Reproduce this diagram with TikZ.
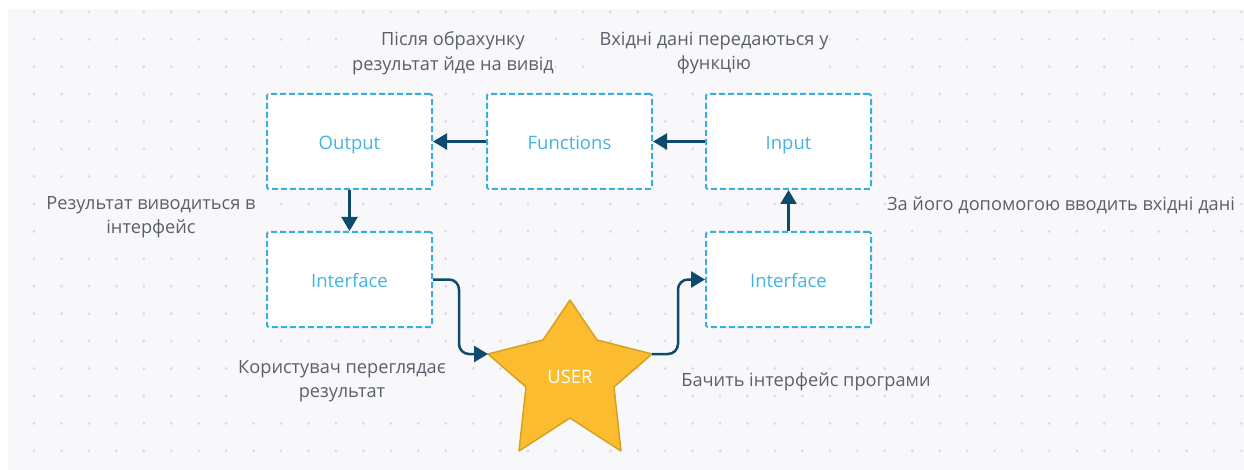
\documentclass[tikz,border=0pt]{standalone}
\usepackage{fontspec}
\setmainfont{Open Sans}
\usetikzlibrary{arrows.meta}
\definecolor{bg}{HTML}{F8F8FA}
\definecolor{dotc}{HTML}{DCDCE0}
\definecolor{boxc}{HTML}{3AADE0}
\definecolor{boxt}{HTML}{45B3E2}
\definecolor{navy}{HTML}{0E4A6B}
\definecolor{starc}{HTML}{FBBD2F}
\definecolor{stard}{HTML}{D6A11E}
\definecolor{labc}{HTML}{5A606B}
\tikzset{
  box/.style={draw=boxc, dash pattern=on 6pt off 3pt, line width=2pt, fill=white,
    minimum width=165pt, minimum height=95pt, rounded corners=2pt, text=boxt,
    font=\fontsize{18.5}{22}\selectfont, text height=19.5pt, text depth=3pt},
  conn/.style={draw=navy, line width=2.5pt, -{Triangle[length=14pt,width=16pt]}},
  lab/.style={text=labc, font=\fontsize{18.2}{24.5}\selectfont, align=center, fill=bg, inner sep=1pt},
}
\begin{document}
\begin{tikzpicture}[x=1pt,y=-1pt]
\useasboundingbox (0,0) rectangle (1244,470);
\fill[bg] (8,9) rectangle (1244,470);
\begin{scope}
\clip (8,9) rectangle (1244,470);
\foreach \i in {0,...,45} \foreach \j in {0,...,16} \fill[dotc] (6.66+27.44*\i, 11.8+27.44*\j) circle (1.6pt);
\end{scope}

\node[box] (out) at (349.5,141.5) {Output};
\node[box] (fun) at (569.5,141.5) {Functions};
\node[box] (inp) at (788.5,141.5) {Input};
\node[box] (ifl) at (349.5,279.5) {Interface};
\node[box] (ifr) at (788.5,279.5) {Interface};

\draw[stard, line width=1.5pt, fill=starc, line join=round]
  (570,300) -- (597,340) -- (652,354) -- (614,387) -- (621,451) -- (570,418)
  -- (519,451) -- (526,387) -- (488,354) -- (543,340) -- cycle;
\coordinate (sL) at (488,354);
\coordinate (sR) at (652,354);
\node[text=white, font=\fontsize{18.5}{22}\selectfont] (user) at (570,377) {USER};

\draw[conn] (fun.west) -- (out.east);
\draw[conn] (inp.west) -- (fun.east);
\draw[conn] (out.south) -- (ifl.north);
\draw[conn] (ifr.north) -- (inp.south);
\draw[conn, rounded corners=10pt] (ifl.east) -- ++(26,0) |- (sL);
\draw[conn, rounded corners=10pt] (sR) -- ++(26,0) |- (ifr.west);

\node[lab] (l1) at (453,53) {Після обрахунку\\результат йде на вивід};
\node[lab] (l2) at (714,53) {Вхідні дані передаються у\\функцію};
\node[lab] (l3) at (151,217) {Результат виводиться в\\інтерфейс};
\node[lab] (l4) at (1061,205) {За його допомогою вводить вхідні дані};
\node[lab] (l5) at (342,381) {Користувач переглядає\\результат};
\node[lab] (l6) at (806,382) {Бачить інтерфейс програми};
\end{tikzpicture}
\end{document}
